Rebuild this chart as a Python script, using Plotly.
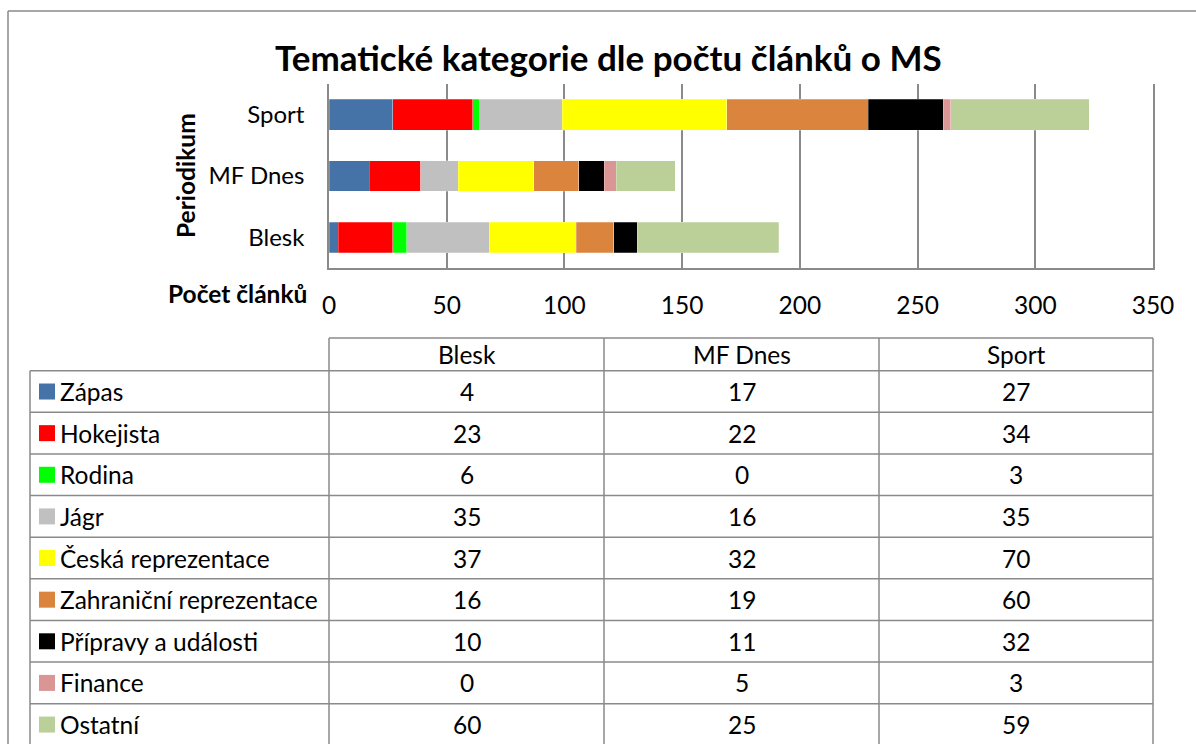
import plotly.graph_objects as go

# ---- data ----
periodika = ["Blesk", "MF Dnes", "Sport"]
kategorie = ["Zápas", "Hokejista", "Rodina", "Jágr", "Česká reprezentace",
             "Zahraniční reprezentace", "Přípravy a události", "Finance", "Ostatní"]
zapas = [4, 17, 27]
hokejista = [23, 22, 34]
rodina = [6, 0, 3]
jagr = [35, 16, 35]
ceska = [37, 32, 70]
zahranicni = [16, 19, 60]
pripravy = [10, 11, 32]
finance = [0, 5, 3]
ostatni = [60, 25, 59]
x_ticks = [0, 50, 100, 150, 200, 250, 300, 350]

series = [zapas, hokejista, rodina, jagr, ceska, zahranicni, pripravy, finance, ostatni]
colors = ["#4572A7", "#FF0000", "#00FF00", "#C0C0C0", "#FFFF00",
          "#DB843D", "#000000", "#D99694", "#BBCF99"]

FONT = "Lato"
FS = 24.5
GRAY = "#8A8A8A"
W, H = 1196, 744
PL, PR, PT, PB = 329, 1153, 84, 268


def fx(x):
    return (x - PL) / (PR - PL)


def fy(y):
    return (PB - y) / (PB - PT)


fig = go.Figure()
for name, vals, col in zip(kategorie, series, colors):
    fig.add_trace(go.Bar(
        y=periodika, x=vals, name=name, orientation="h",
        marker=dict(color=col, line=dict(color="rgba(255,255,255,0.5)", width=0.5)),
        showlegend=False,
    ))

shapes = []
annotations = []

# outer frame (left and top visible)
shapes.append(dict(type="line", xref="paper", yref="paper",
                   x0=fx(8), x1=fx(8), y0=fy(11), y1=fy(760),
                   line=dict(color=GRAY, width=1.5)))
shapes.append(dict(type="line", xref="paper", yref="paper",
                   x0=fx(8), x1=fx(1200), y0=fy(11), y1=fy(11),
                   line=dict(color=GRAY, width=1.5)))

# title and axis titles
annotations.append(dict(text="<b>Tematické kategorie dle počtu článků o MS</b>",
                        xref="paper", yref="paper", x=fx(608), y=fy(57),
                        xanchor="center", yanchor="middle", showarrow=False,
                        font=dict(family=FONT, size=35, color="black")))
annotations.append(dict(text="<b>Periodikum</b>", textangle=-90,
                        xref="paper", yref="paper", x=fx(185), y=fy(176),
                        xanchor="center", yanchor="middle", showarrow=False,
                        font=dict(family=FONT, size=FS, color="black")))
annotations.append(dict(text="<b>Počet článků</b>",
                        xref="paper", yref="paper", x=fx(309), y=fy(293),
                        xanchor="right", yanchor="middle", showarrow=False,
                        font=dict(family=FONT, size=FS, color="black")))

# data table
col_edges = [PL, 604, 879, PR]
head_top = 338
row_top = 370.7
row_h = 41.63
n = len(kategorie)
bottom = row_top + row_h * n + 20
tline = dict(color=GRAY, width=1.5)
shapes.append(dict(type="line", xref="paper", yref="paper",
                   x0=fx(PL), x1=fx(PR), y0=fy(head_top), y1=fy(head_top), line=tline))
for k in range(n + 1):
    yy = row_top + k * row_h
    shapes.append(dict(type="line", xref="paper", yref="paper",
                       x0=fx(30), x1=fx(PR), y0=fy(yy), y1=fy(yy), line=tline))
shapes.append(dict(type="line", xref="paper", yref="paper",
                   x0=fx(30), x1=fx(30), y0=fy(row_top), y1=fy(bottom), line=tline))
for xe in col_edges:
    shapes.append(dict(type="line", xref="paper", yref="paper",
                       x0=fx(xe), x1=fx(xe), y0=fy(head_top), y1=fy(bottom), line=tline))

col_centers = [(col_edges[i] + col_edges[i + 1]) / 2 for i in range(3)]
for i, p in enumerate(periodika):
    annotations.append(dict(text=p, xref="paper", yref="paper",
                            x=fx(col_centers[i]), y=fy((head_top + row_top) / 2),
                            xanchor="center", yanchor="middle", showarrow=False,
                            font=dict(family=FONT, size=FS, color="black")))

for r, (name, vals, col) in enumerate(zip(kategorie, series, colors)):
    cy = row_top + row_h * r + row_h / 2
    shapes.append(dict(type="rect", xref="paper", yref="paper",
                       x0=fx(39), x1=fx(55), y0=fy(cy - 8), y1=fy(cy + 8),
                       fillcolor=col, line=dict(width=0)))
    annotations.append(dict(text=name, xref="paper", yref="paper",
                            x=fx(58), y=fy(cy), xanchor="left", yanchor="middle",
                            showarrow=False,
                            font=dict(family=FONT, size=FS, color="black")))
    for i, v in enumerate(vals):
        annotations.append(dict(text=str(v), xref="paper", yref="paper",
                                x=fx(col_centers[i]), y=fy(cy),
                                xanchor="center", yanchor="middle", showarrow=False,
                                font=dict(family=FONT, size=FS, color="black")))

fig.update_layout(
    width=W, height=H, autosize=False,
    margin=dict(l=PL, r=W - PR, t=PT, b=H - PB, pad=0),
    paper_bgcolor="white", plot_bgcolor="white",
    barmode="stack", bargap=0.5,
    font=dict(family=FONT, size=FS, color="black"),
    xaxis=dict(range=[0, 350], tickvals=x_ticks, ticktext=[str(t) for t in x_ticks],
               showgrid=True, gridcolor=GRAY, gridwidth=1.5,
               showline=True, linecolor=GRAY, linewidth=1.5,
               zeroline=False, ticks="", ticklabelstandoff=15,
               tickfont=dict(family=FONT, size=FS, color="black")),
    yaxis=dict(type="category", categoryarray=periodika, categoryorder="array",
               showgrid=False, showline=True, mirror=True,
               linecolor=GRAY, linewidth=1.5,
               zeroline=False, ticks="", ticklabelstandoff=18,
               tickfont=dict(family=FONT, size=24, color="black")),
    shapes=shapes, annotations=annotations,
)

fig.write_html("out.html", config={"displayModeBar": False},
               post_script="document.body.style.margin='0px';document.body.style.overflow='hidden';")
